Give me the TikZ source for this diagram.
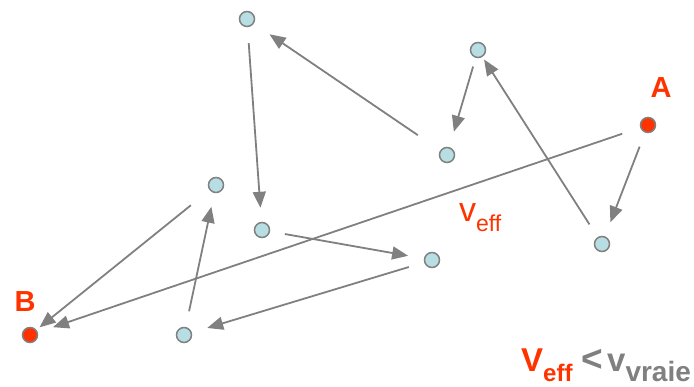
\documentclass[tikz,border=0pt]{standalone}
\usepackage{fontspec}
\setmainfont{Liberation Sans}
\usetikzlibrary{arrows.meta}

\definecolor{vred}{RGB}{255,51,0}
\definecolor{vgray}{RGB}{128,128,128}
\definecolor{vblue}{RGB}{183,222,226}

\begin{document}
\begin{tikzpicture}[x=1pt,y=-1pt,>={Triangle[length=16pt,width=13pt]},
	pt/.style={circle,draw=vgray,fill=vblue,line width=1.5pt,minimum size=15pt,inner sep=0pt},
	ends/.style={pt,fill=vred},
	jump/.style={->,draw=vgray,line width=1.8pt,shorten <=15pt,shorten >=15pt},
	lab/.style={text=vred,font=\bfseries\fontsize{29}{29}\selectfont}]
	
	\useasboundingbox (0,0) rectangle (694,387);
	
	% the points of the walk
	\node[ends] (a) at (648,125) {};
	\node[ends] (b) at (30,335) {};
	\node[pt] (p1) at (247,19) {};
	\node[pt] (p2) at (478,50) {};
	\node[pt] (p3) at (447,155) {};
	\node[pt] (p4) at (216,185) {};
	\node[pt] (p5) at (262,230) {};
	\node[pt] (p6) at (432,260) {};
	\node[pt] (p7) at (602,244) {};
	\node[pt] (p8) at (184,335) {};
	
	\node[lab] (la) at (661,88) {A};
	\node[lab] (lb) at (25,302) {B};
	
	% steps
	\draw[jump] (a) -- (p7);
	\draw[jump,shorten >=3pt] (p7) -- (p2);
	\draw[jump,shorten <=9pt,shorten >=16pt] (p2) -- (p3);
	\draw[jump,shorten <=27pt,shorten >=19pt] (p3) -- (p1);
	\draw[jump,shorten <=16pt,shorten >=14pt] (p1) -- (p5);
	\draw[jump,shorten >=16pt] (p5) -- (p6);
	\draw[jump,shorten <=16pt,shorten >=16pt] (p6) -- (p8);
	\draw[jump,shorten <=16pt,shorten >=14pt] (p8) -- (p4);
	\draw[jump,shorten <=24pt,shorten >=4pt] (p4) -- (b);
	% straight jump
	\draw[jump,shorten <=19pt,shorten >=16pt] (a) -- (b);
	
	\node[anchor=base west,inner sep=0pt,text=vred] (veff) at (459,222)
		{\fontsize{34}{34}\selectfont v\lower10pt\hbox{\fontsize{23}{23}\selectfont eff}};
	\node[anchor=base west,inner sep=0pt] (vcmp) at (521,372)
		{\bfseries\fontsize{33}{33}\selectfont\textcolor{vred}{V\lower10pt\hbox{\fontsize{24}{24}\selectfont eff}}\hspace{9pt}\textcolor{vgray}{{\fontsize{37}{37}\selectfont<}\hspace{4pt}v\lower10pt\hbox{\fontsize{28}{28}\selectfont vraie}}};
	
\end{tikzpicture}
\end{document}
